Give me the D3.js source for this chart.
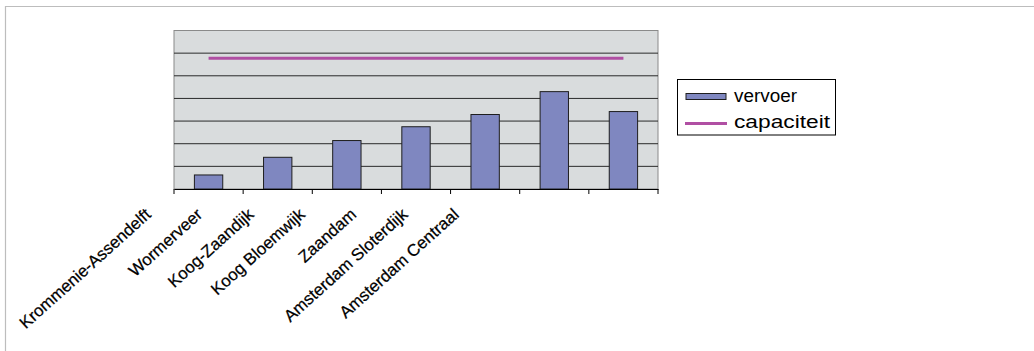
<!DOCTYPE html>
<html>
<head>
<meta charset="utf-8">
<script src="https://cdn.jsdelivr.net/npm/d3@7"></script>
<style>
html,body{margin:0;padding:0;background:#fff;}
svg{display:block;font-family:"Liberation Sans",Arial,sans-serif;}
</style>
</head>
<body>
<svg id="chart" width="1034" height="351"></svg>
<script>
const categories = ["Krommenie-Assendelft","Wormerveer","Koog-Zaandijk","Koog Bloemwijk","Zaandam","Amsterdam Sloterdijk","Amsterdam Centraal"];
const vervoer = [0.62, 1.40, 2.14, 2.75, 3.29, 4.30, 3.42];
const capaciteit = [5.77, 5.77, 5.77, 5.77, 5.77, 5.77, 5.77];
const yTicks = [0,1,2,3,4,5,6,7];
const seriesNames = ["vervoer","capaciteit"];

const svg = d3.select("#chart");

// outer frame
svg.append("line").attr("x1",5).attr("x2",1034).attr("y1",6.5).attr("y2",6.5).attr("stroke","#bdbdbd").attr("stroke-width",1.2);
svg.append("line").attr("x1",5.5).attr("x2",5.5).attr("y1",6).attr("y2",351).attr("stroke","#bdbdbd").attr("stroke-width",1.2);

const L = 174, R = 658, T = 30.5, B = 189;
const x = d3.scaleBand().domain(categories).range([L, R]).padding(0);
const y = d3.scaleLinear().domain([0, 7]).range([B, T]);

// plot area
svg.append("rect").attr("x",L).attr("y",T).attr("width",R-L).attr("height",B-T)
  .attr("fill","#d9dcdd").attr("stroke","#8a8a8a").attr("stroke-width",1);

// gridlines
svg.append("g").selectAll("line").data(yTicks.filter(d=>d>0 && d<7)).join("line")
  .attr("x1",L).attr("x2",R).attr("y1",d=>y(d)).attr("y2",d=>y(d))
  .attr("stroke","#2a2a2a").attr("stroke-width",1);

// bars
const bw = x.bandwidth()*0.41;
svg.append("g").selectAll("rect").data(vervoer).join("rect")
  .attr("x",(d,i)=>x(categories[i])+x.bandwidth()/2-bw/2)
  .attr("y",d=>y(d))
  .attr("width",bw)
  .attr("height",d=>y(0)-y(d))
  .attr("fill","#7f87c0").attr("stroke","#1e1e1e").attr("stroke-width",1);

// capacity line
const line = d3.line().x((d,i)=>x(categories[i])+x.bandwidth()/2).y(d=>y(d));
svg.append("path").datum(capaciteit).attr("d",line)
  .attr("fill","none").attr("stroke","#b04fa3").attr("stroke-width",3);

// x axis
const xAxis = d3.axisBottom(x).tickSize(0).tickFormat("");
const ag = svg.append("g").attr("transform",`translate(0,${B})`).call(xAxis);
ag.select(".domain").attr("stroke","#000").attr("stroke-width",1.2);
// ticks at category boundaries
const bounds = categories.map(c=>x(c)).concat([R]);
svg.append("g").selectAll("line").data(bounds).join("line")
  .attr("x1",d=>d).attr("x2",d=>d).attr("y1",B).attr("y2",B+5)
  .attr("stroke","#000").attr("stroke-width",1);

// rotated labels
const lx = d3.scalePoint().domain(categories).range([152, 460]);
svg.append("g").selectAll("text").data(categories).join("text")
  .attr("transform",d=>`translate(${lx(d)},216) rotate(-42)`)
  .attr("text-anchor","end")
  .attr("font-size",16.8)
  .attr("fill","#000")
  .attr("stroke","#000").attr("stroke-width",0.25)
  .text(d=>d);

// legend
const lg = svg.append("g");
lg.append("rect").attr("x",677.5).attr("y",79.5).attr("width",158).attr("height",55.5)
  .attr("fill","#fff").attr("stroke","#000").attr("stroke-width",1);
lg.append("rect").attr("x",686).attr("y",93.5).attr("width",40).attr("height",6)
  .attr("fill","#7f87c0").attr("stroke","#1e1e1e").attr("stroke-width",1);
lg.append("line").attr("x1",685).attr("x2",727).attr("y1",123.5).attr("y2",123.5)
  .attr("stroke","#b04fa3").attr("stroke-width",3);
lg.append("text").attr("x",734).attr("y",101.5).attr("font-size",17.5)
  .attr("textLength",63).attr("lengthAdjust","spacingAndGlyphs").text(seriesNames[0]);
lg.append("text").attr("x",734).attr("y",127.5).attr("font-size",17.5)
  .attr("textLength",96).attr("lengthAdjust","spacingAndGlyphs").text(seriesNames[1]);
</script>
</body>
</html>
